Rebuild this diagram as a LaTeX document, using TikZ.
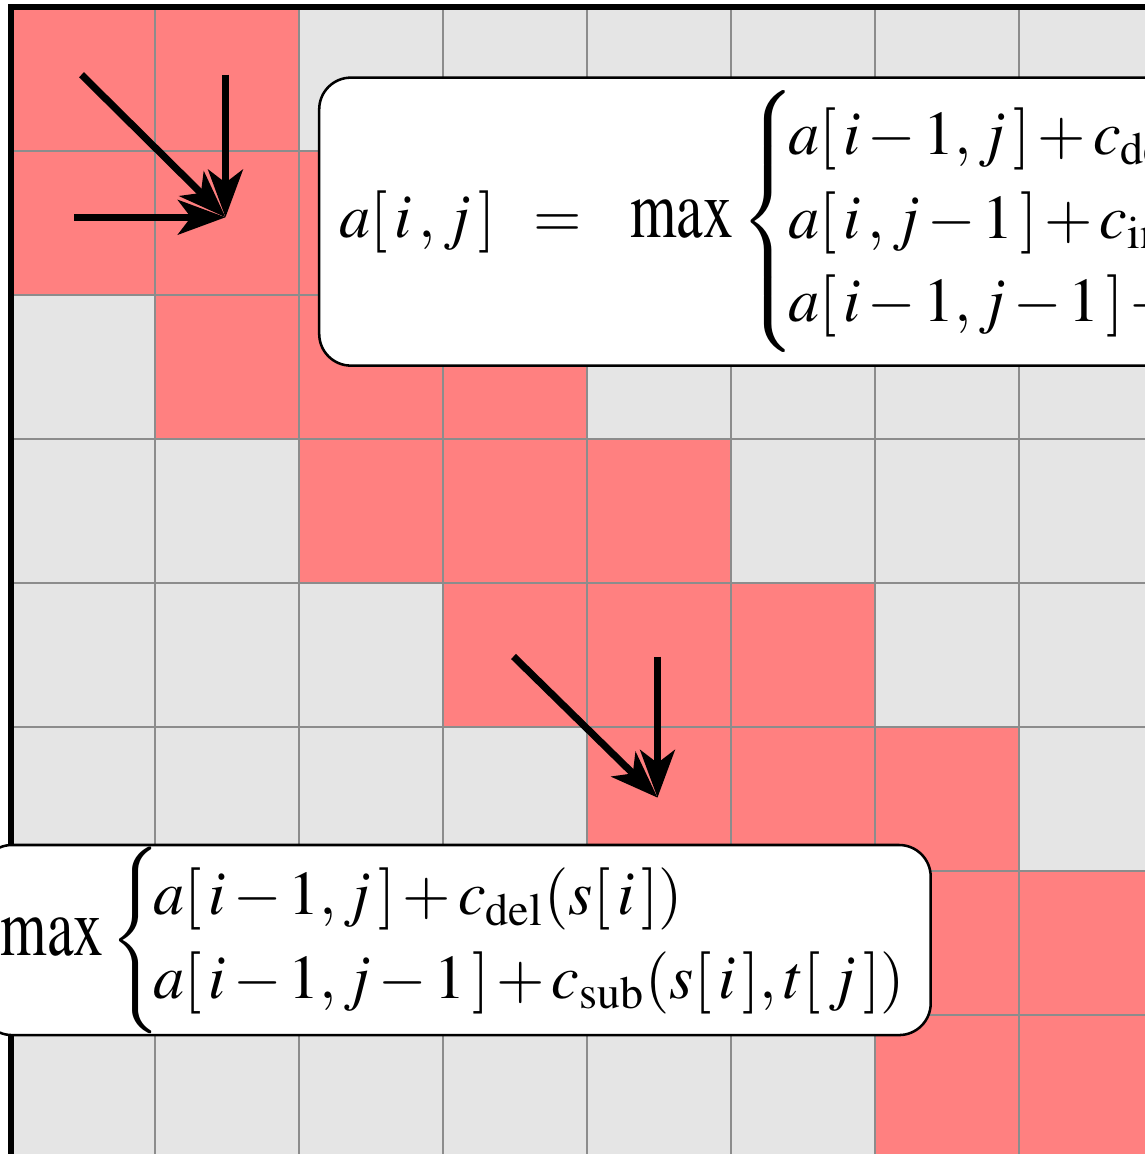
\documentclass[tikz,border=0pt]{standalone}
\usepackage{amsmath}
\usepackage{mathptmx}
\usetikzlibrary{arrows.meta}

\definecolor{bandred}{RGB}{255,128,128}
\definecolor{cellgray}{RGB}{229,229,229}
\definecolor{gridgray}{RGB}{140,140,140}

% 方括号内留空
\newcommand{\bk}[1]{[\mkern2mu#1\mkern2mu]}
\newcommand{\bigmax}{\scalebox{0.96}[1.32]{$\max$}}
\newenvironment{rowcases}{\delimiterfactor=1000\delimitershortfall=-3pt
    \left\{\mkern-2mu\def\arraystretch{1.1}\begin{array}{@{}l@{}}}{\end{array}\right.}

\begin{document}
\begin{tikzpicture}[>={Stealth[length=3.3mm,width=2.4mm,inset=0.9mm]}, thick,
    flow/.style={->, line width=1.4pt},
    formbox/.style={draw, line width=0.5pt, fill=white, rounded corners=0.22cm,
        inner xsep=0.14cm, inner ysep=0pt,
        font=\fontsize{12.3}{15}\selectfont}]
    % 画布范围
    \useasboundingbox (-0.076,0.049) rectangle (7.875,-7.965);
    \clip (-0.076,0.049) rectangle (7.875,-7.965);

    % 表格底色
    \fill[cellgray] (0,0) rectangle (8,-8);
    % 对角带
    \begin{scope}
        \clip (0,0) rectangle (8,-8);
        \foreach \r in {0,...,7}
            \foreach \d in {-1,0,1}
                \fill[bandred] (\r+\d,-\r) rectangle ++(1,-1);
    \end{scope}
    % 网格线
    \draw[gridgray, line width=0.5pt] (0,0) grid (8,-8);
    % 外边框
    \draw[line width=1.1pt] (0,-8) -- (0,0) -- (8,0);

    % 第一组箭头
    \coordinate (tipA) at (1.49,-1.46);
    \coordinate (diagA) at (0.49,-0.47);
    \coordinate (upA) at (1.49,-0.47);
    \coordinate (leftA) at (0.44,-1.46);
    \draw[flow] (diagA) -- (tipA);
    \draw[flow] (upA) -- (tipA);
    \draw[flow] (leftA) -- (tipA);

    % 第二组箭头
    \coordinate (tipB) at (4.49,-5.49);
    \coordinate (diagB) at (3.49,-4.51);
    \coordinate (upB) at (4.49,-4.51);
    \draw[flow] (diagB) -- (tipB);
    \draw[flow] (upB) -- (tipB);

    % 递推公式
    \node[formbox, anchor=west, minimum height=2.0cm] (recur) at (2.132,-1.49)
        {$\medmuskip=2mu\relax
        a\bk{i\mkern2mu,j} \mkern7mu=\mkern10mu \bigmax\begin{rowcases}
            a\bk{i-1,j}+c_{\mathrm{del}}(s\bk{i})\\
            a\bk{i\mkern2mu,j-1}+c_{\mathrm{ins}}(t\bk{j})\\
            a\bk{i-1,j-1}+c_{\mathrm{sub}}(s\bk{i},t\bk{j})
        \end{rowcases}$};
    \node[formbox, anchor=east, minimum height=1.32cm] (border) at (6.396,-6.479)
        {$\medmuskip=2mu\relax
        \bigmax\begin{rowcases}
            a\bk{i-1,j}+c_{\mathrm{del}}(s\bk{i})\\
            a\bk{i-1,j-1}+c_{\mathrm{sub}}(s\bk{i},t\bk{j})
        \end{rowcases}$};
\end{tikzpicture}
\end{document}
